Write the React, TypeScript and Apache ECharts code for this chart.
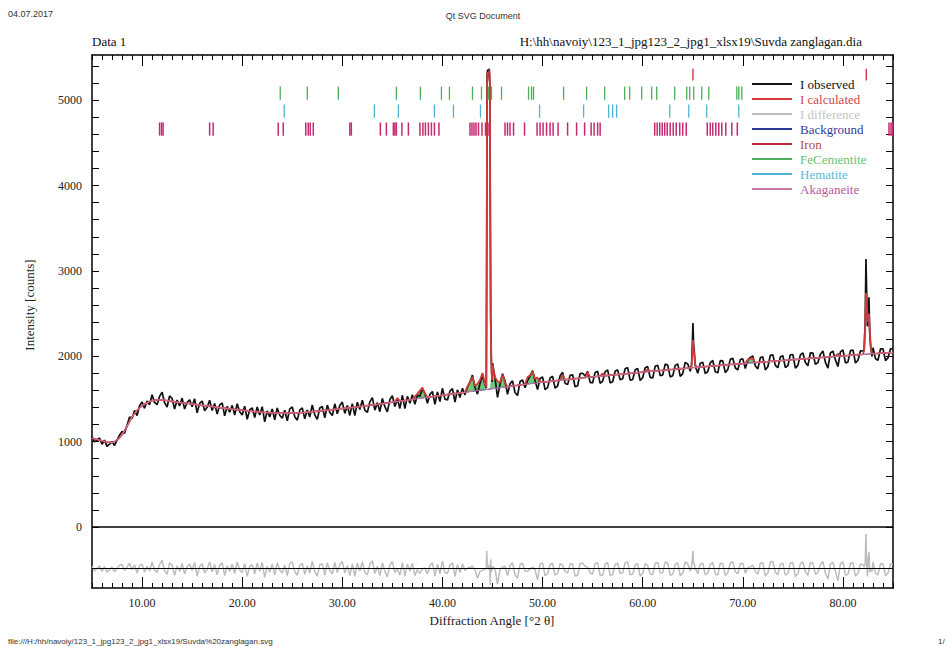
import React, { useEffect, useRef } from "react";
import * as echarts from "echarts";

// ---------------- data ----------------
const angles = [
  5, 5.25, 5.5, 5.75, 6, 6.25, 6.5, 6.75, 7, 7.25, 7.5, 7.75, 8, 8.25, 8.5, 8.75, 9, 9.25, 9.5, 9.75,
  10, 10.25, 10.5, 10.75, 11, 11.25, 11.5, 11.75, 12, 12.25, 12.5, 12.75, 13, 13.25, 13.5, 13.75, 14, 14.25, 14.5, 14.75,
  15, 15.25, 15.5, 15.75, 16, 16.25, 16.5, 16.75, 17, 17.25, 17.5, 17.75, 18, 18.25, 18.5, 18.75, 19, 19.25, 19.5, 19.75,
  20, 20.25, 20.5, 20.75, 21, 21.25, 21.5, 21.75, 22, 22.25, 22.5, 22.75, 23, 23.25, 23.5, 23.75, 24, 24.25, 24.5, 24.75,
  25, 25.25, 25.5, 25.75, 26, 26.25, 26.5, 26.75, 27, 27.25, 27.5, 27.75, 28, 28.25, 28.5, 28.75, 29, 29.25, 29.5, 29.75,
  30, 30.25, 30.5, 30.75, 31, 31.25, 31.5, 31.75, 32, 32.25, 32.5, 32.75, 33, 33.25, 33.5, 33.75, 34, 34.25, 34.5, 34.75,
  35, 35.25, 35.5, 35.75, 36, 36.25, 36.5, 36.75, 37, 37.25, 37.5, 37.75, 38, 38.25, 38.5, 38.75, 39, 39.25, 39.5, 39.75,
  40, 40.25, 40.5, 40.75, 41, 41.25, 41.5, 41.75, 42, 42.25, 42.5, 42.75, 43, 43.25, 43.5, 43.75, 44, 44.25, 44.5, 44.75,
  45, 45.25, 45.5, 45.75, 46, 46.25, 46.5, 46.75, 47, 47.25, 47.5, 47.75, 48, 48.25, 48.5, 48.75, 49, 49.25, 49.5, 49.75,
  50, 50.25, 50.5, 50.75, 51, 51.25, 51.5, 51.75, 52, 52.25, 52.5, 52.75, 53, 53.25, 53.5, 53.75, 54, 54.25, 54.5, 54.75,
  55, 55.25, 55.5, 55.75, 56, 56.25, 56.5, 56.75, 57, 57.25, 57.5, 57.75, 58, 58.25, 58.5, 58.75, 59, 59.25, 59.5, 59.75,
  60, 60.25, 60.5, 60.75, 61, 61.25, 61.5, 61.75, 62, 62.25, 62.5, 62.75, 63, 63.25, 63.5, 63.75, 64, 64.25, 64.5, 64.75,
  65, 65.25, 65.5, 65.75, 66, 66.25, 66.5, 66.75, 67, 67.25, 67.5, 67.75, 68, 68.25, 68.5, 68.75, 69, 69.25, 69.5, 69.75,
  70, 70.25, 70.5, 70.75, 71, 71.25, 71.5, 71.75, 72, 72.25, 72.5, 72.75, 73, 73.25, 73.5, 73.75, 74, 74.25, 74.5, 74.75,
  75, 75.25, 75.5, 75.75, 76, 76.25, 76.5, 76.75, 77, 77.25, 77.5, 77.75, 78, 78.25, 78.5, 78.75, 79, 79.25, 79.5, 79.75,
  80, 80.25, 80.5, 80.75, 81, 81.25, 81.5, 81.75, 82, 82.25, 82.5, 82.75, 83, 83.25, 83.5, 83.75, 84, 84.25, 84.5, 84.75,
  85,
];

const background = [
  1040, 1032, 1025, 1018, 1010, 1002, 995, 992, 990, 1000, 1020, 1045, 1080, 1128, 1180, 1235, 1290, 1330, 1365, 1395,
  1420, 1440, 1455, 1468, 1480, 1485, 1488, 1490, 1490, 1485, 1480, 1475, 1470, 1466, 1462, 1458, 1455, 1452, 1448, 1444,
  1440, 1436, 1432, 1428, 1425, 1422, 1418, 1414, 1410, 1406, 1402, 1398, 1395, 1392, 1388, 1384, 1380, 1377, 1374, 1371,
  1368, 1365, 1362, 1358, 1355, 1352, 1350, 1348, 1345, 1343, 1341, 1340, 1338, 1336, 1335, 1334, 1333, 1333, 1334, 1334,
  1335, 1336, 1337, 1338, 1340, 1342, 1345, 1348, 1350, 1353, 1356, 1359, 1362, 1365, 1368, 1372, 1375, 1378, 1381, 1384,
  1388, 1391, 1394, 1397, 1400, 1404, 1407, 1411, 1415, 1418, 1422, 1426, 1430, 1434, 1437, 1441, 1445, 1449, 1453, 1458,
  1462, 1466, 1470, 1474, 1478, 1482, 1486, 1490, 1495, 1499, 1503, 1508, 1512, 1516, 1520, 1524, 1528, 1532, 1536, 1540,
  1545, 1548, 1552, 1556, 1560, 1564, 1567, 1571, 1575, 1578, 1582, 1586, 1590, 1594, 1597, 1601, 1605, 1608, 1612, 1616,
  1620, 1624, 1628, 1632, 1636, 1640, 1644, 1648, 1652, 1656, 1660, 1664, 1667, 1671, 1675, 1678, 1682, 1686, 1690, 1694,
  1697, 1700, 1703, 1706, 1710, 1713, 1716, 1719, 1722, 1725, 1728, 1731, 1734, 1737, 1740, 1743, 1746, 1749, 1752, 1755,
  1758, 1761, 1764, 1767, 1770, 1772, 1775, 1778, 1781, 1784, 1786, 1789, 1792, 1794, 1797, 1800, 1803, 1806, 1808, 1811,
  1814, 1816, 1819, 1822, 1825, 1828, 1830, 1833, 1836, 1838, 1841, 1844, 1846, 1848, 1851, 1854, 1856, 1858, 1861, 1864,
  1866, 1868, 1871, 1874, 1876, 1878, 1881, 1884, 1886, 1888, 1891, 1894, 1896, 1898, 1901, 1904, 1906, 1908, 1910, 1912,
  1915, 1917, 1919, 1922, 1924, 1926, 1928, 1930, 1933, 1935, 1937, 1940, 1942, 1944, 1946, 1948, 1951, 1953, 1955, 1958,
  1960, 1962, 1964, 1966, 1969, 1971, 1973, 1976, 1978, 1980, 1982, 1984, 1987, 1989, 1991, 1994, 1996, 1998, 2000, 2002,
  2005, 2007, 2009, 2012, 2014, 2016, 2018, 2020, 2022, 2024, 2026, 2028, 2030, 2032, 2034, 2036, 2038, 2040, 2041, 2043,
  2045,
];

const observed = [
  1060, 997, 1015, 1043, 970, 1017, 945, 972, 1000, 955, 1015, 1075, 1120, 1098, 1190, 1290, 1270, 1365, 1305, 1420,
  1465, 1390, 1475, 1433, 1550, 1460, 1433, 1530, 1580, 1455, 1405, 1535, 1505, 1381, 1487, 1418, 1510, 1382, 1458, 1489,
  1410, 1501, 1337, 1448, 1475, 1362, 1403, 1484, 1365, 1446, 1322, 1428, 1455, 1302, 1413, 1344, 1425, 1312, 1444, 1351,
  1313, 1415, 1262, 1373, 1395, 1282, 1405, 1313, 1410, 1233, 1361, 1290, 1383, 1256, 1395, 1309, 1273, 1368, 1244, 1384,
  1405, 1291, 1252, 1368, 1395, 1267, 1370, 1288, 1430, 1313, 1261, 1394, 1412, 1280, 1428, 1342, 1305, 1443, 1326, 1424,
  1463, 1331, 1424, 1307, 1445, 1304, 1462, 1376, 1485, 1368, 1342, 1466, 1515, 1369, 1457, 1351, 1505, 1409, 1348, 1493,
  1537, 1411, 1500, 1389, 1543, 1387, 1531, 1450, 1550, 1439, 1543, 1533, 1622, 1566, 1450, 1554, 1588, 1437, 1581, 1470,
  1625, 1498, 1487, 1591, 1620, 1464, 1607, 1516, 1625, 1548, 1642, 1700, 1780, 1634, 1557, 1681, 1775, 1668, 1632, 1616,
  1920, 1744, 1518, 1672, 1796, 1710, 1554, 1678, 1712, 1576, 1540, 1704, 1722, 1631, 1715, 1768, 1832, 1716, 1610, 1739,
  1757, 1610, 1633, 1746, 1765, 1628, 1651, 1769, 1812, 1685, 1668, 1776, 1784, 1642, 1655, 1798, 1801, 1769, 1822, 1695,
  1688, 1811, 1824, 1682, 1710, 1817, 1840, 1688, 1701, 1824, 1841, 1724, 1737, 1854, 1867, 1720, 1728, 1841, 1858, 1716,
  1749, 1866, 1879, 1752, 1745, 1883, 1895, 1773, 1781, 1908, 1896, 1759, 1771, 1893, 1911, 1764, 1796, 1928, 1911, 1824,
  1866, 1868, 1801, 1919, 1931, 1798, 1821, 1924, 1951, 1818, 1806, 1949, 1946, 1808, 1846, 1964, 1976, 1863, 1840, 1962,
  1970, 1857, 1959, 1987, 2004, 1886, 1853, 1985, 1993, 1840, 1877, 2010, 2017, 1894, 1866, 1993, 2006, 1868, 1890, 2018,
  2020, 1862, 1894, 2016, 2039, 1926, 1888, 2041, 2038, 1905, 1927, 2024, 2062, 1929, 1861, 2039, 2061, 1958, 1880, 2052,
  2075, 1922, 1934, 2067, 2074, 1921, 1953, 2065, 2062, 2024, 2026, 2028, 2100, 1972, 1954, 2086, 2088, 1950, 1981, 2088,
  2085,
];

// FeCementite / minor-phase contributions above the background
const cementiteAngles = [
  35.5, 37.25, 37.5, 37.75, 38, 38.25, 42.5, 42.75, 43, 43.25, 43.5, 43.75, 44, 44.25,
  45, 45.25, 45.5, 45.75, 46, 46.25, 48.5, 48.75, 49, 49.25, 49.5, 52, 54.5, 56, 60.5, 70.5, 70.75, 71, 79.5,
];
const cementiteHeights = [
  40, 30, 60, 90, 120, 50, 60, 110, 170, 60, 80, 120, 200, 70,
  280, 130, 80, 60, 150, 50, 80, 100, 140, 50, 60, 60, 60, 30, 30, 40, 50, 50, 30,
];

// Iron peaks (fine sampling)
const iron110Angles = [44.38, 44.42, 44.46, 44.52, 44.6, 44.68, 44.74, 44.78, 44.82, 44.88, 44.95];
const iron110Observed = [1630, 3200, 5300, 5360, 5280, 5370, 5150, 3600, 2500, 1950, 1700];
const iron110Calculated = [1640, 3000, 5200, 5330, 5300, 5340, 5200, 3800, 2400, 2000, 1720];

const iron200Angles = [64.88, 64.96, 65.02, 65.08, 65.16, 65.24, 65.32];
const iron200Observed = [1900, 2150, 2390, 2150, 2050, 1900, 1860];
const iron200Calculated = [1880, 2050, 2190, 2100, 2000, 1920, 1875];

const iron211Angles = [82.12, 82.22, 82.3, 82.36, 82.44, 82.52, 82.6, 82.68, 82.78, 82.9];
const iron211Observed = [2080, 2400, 3140, 2800, 2350, 2500, 2690, 2250, 2100, 2000];
const iron211Calculated = [2070, 2350, 2740, 2700, 2450, 2400, 2500, 2300, 2120, 2040];

// Reflection markers
const ironReflections = [44.67, 65.02, 82.33];
const cementiteReflections = [
  23.8, 26.5, 29.6, 35.4, 37.8, 39.9, 40.7, 43.0, 43.9, 44.6, 44.9, 45.9, 48.6, 48.9, 49.1,
  52.1, 54.4, 56.2, 58.2, 58.7, 59.9, 60.9, 61.4, 63.2, 64.4, 64.7, 65.1, 65.9, 66.6, 69.4, 69.6, 69.9,
];
const hematiteReflections = [24.2, 33.2, 35.6, 39.2, 41.1, 43.8, 49.7, 54.1, 56.6, 57.0, 57.4, 62.7, 64.6, 66.4, 69.6];
const akaganeiteReflections = [
  11.75, 11.95, 12.1, 16.75, 17.1, 23.6, 24.1, 26.35, 26.6, 26.8, 27.1, 30.75, 30.9,
  33.8, 34.4, 35.1, 35.25, 35.4, 35.95, 36.6, 37.75, 38.05, 38.3, 38.6, 38.9, 39.2, 39.65,
  42.75, 42.95, 43.15, 43.35, 43.6, 43.95, 44.3, 44.55, 46.25, 46.5, 46.75, 47.1, 48.2,
  49.45, 49.75, 50.05, 50.4, 50.75, 51.05, 51.55, 52.5, 53.4, 54.2, 54.85, 55.15, 55.5, 55.75,
  61.2, 61.45, 61.7, 61.95, 62.2, 62.45, 62.75, 63.05, 63.35, 63.7, 64.0, 64.35,
  66.45, 66.75, 67.0, 67.3, 67.6, 67.9, 68.3, 68.9, 69.45, 84.6, 84.8, 84.95,
];

const xLabelValues = [10, 20, 30, 40, 50, 60, 70, 80];
const yLabelValues = [0, 1000, 2000, 3000, 4000, 5000];
const yTickValues = [
  0, 200, 400, 600, 800, 1000, 1200, 1400, 1600, 1800, 2000, 2200, 2400, 2600,
  2800, 3000, 3200, 3400, 3600, 3800, 4000, 4200, 4400, 4600, 4800, 5000, 5200, 5400,
];

const legendNames = ["I observed", "I calculated", "I difference", "Background", "Iron", "FeCementite", "Hematite", "Akaganeite"];

// ---------------- styling constants ----------------
const SERIF = "'Liberation Serif', 'DejaVu Serif', 'Times New Roman', serif";
const SANS = "'Liberation Sans', Arial, sans-serif";
const DIFF_OFFSET = -480;
const COLORS = {
  observed: "#111111",
  calculated: "#d23a3a",
  difference: "#bdbdbd",
  background: "#2b3592",
  iron: "#c8283c",
  cementite: "#4caf5a",
  hematite: "#4fb4d4",
  akaganeite: "#c42a72",
  akaLine: "#c77aa6",
};
const LEGEND_TEXT = ["#111111", "#d04848", "#c4c4c4", "#333a9a", "#b84848", "#6cc070", "#5cb8d8", "#b45c9c"];
const ROWS = {
  iron: [5370, 5230],
  cementite: [5160, 5005],
  hematite: [4950, 4795],
  akaganeite: [4740, 4585],
};

function buildMerged() {
  const calculated = background.map((b, i) => {
    const k = cementiteAngles.indexOf(angles[i]);
    return k >= 0 ? b + cementiteHeights[k] : b;
  });
  const groups = [
    { a: iron110Angles, o: iron110Observed, c: iron110Calculated },
    { a: iron200Angles, o: iron200Observed, c: iron200Calculated },
    { a: iron211Angles, o: iron211Observed, c: iron211Calculated },
  ];
  const merged: number[][] = [];
  angles.forEach((a, i) => {
    const inside = groups.some((g) => a > g.a[0] && a < g.a[g.a.length - 1]);
    if (!inside) merged.push([a, observed[i], calculated[i]]);
  });
  groups.forEach((g) => g.a.forEach((a, j) => merged.push([a, g.o[j], g.c[j]])));
  merged.sort((p, q) => p[0] - q[0]);
  return { calculated, merged };
}

function markerSeries(name: string, refs: number[], row: number[], color: string, width: number) {
  return {
    type: "custom",
    name,
    silent: true,
    itemStyle: { color },
    z: 4,
    data: refs.map((a) => [a, row[0]]),
    renderItem: (params: any, api: any) => {
      const a = api.value(0);
      const p1 = api.coord([a, row[0]]);
      const p2 = api.coord([a, row[1]]);
      return {
        type: "line",
        shape: { x1: p1[0], y1: p1[1], x2: p2[0], y2: p2[1] },
        style: { stroke: color, lineWidth: width },
      };
    },
  };
}

export default function App() {
  const ref = useRef<HTMLDivElement>(null);
  useEffect(() => {
    if (!ref.current) return;
    const chart = echarts.init(ref.current, null, { renderer: "svg" });
    const { calculated, merged } = buildMerged();

    const axisLineStyle = { color: "#000", width: 1.5 };
    const tickStyle = { color: "#000", width: 1 };
    const xMinor = angles.filter((a) => a % 1 === 0);
    const xBase = { type: "value", min: 5, max: 85, splitLine: { show: false } };
    const yBase = { type: "value", min: -715, max: 5530, splitLine: { show: false } };

    const option: any = {
      animation: false,
      backgroundColor: "#fff",
      grid: { left: 92, right: 53, top: 55, bottom: 58, containLabel: false, outerBoundsMode: "none" },
      xAxis: [
        {
          ...xBase,
          position: "bottom",
          axisLine: { show: true, onZero: false, lineStyle: axisLineStyle },
          axisTick: { show: true, inside: true, length: 5, customValues: xMinor, lineStyle: tickStyle },
          axisLabel: {
            show: true,
            customValues: xLabelValues,
            formatter: (v: number) => v.toFixed(2),
            margin: 9,
            fontFamily: SERIF,
            fontSize: 12,
            color: "#222",
          },
        },
        {
          ...xBase,
          position: "bottom",
          axisLine: { show: false, onZero: false },
          axisTick: { show: true, inside: true, length: 11, customValues: xLabelValues, lineStyle: tickStyle },
          axisLabel: { show: false },
        },
        {
          ...xBase,
          position: "top",
          axisLine: { show: true, onZero: false, lineStyle: axisLineStyle },
          axisTick: { show: true, inside: true, length: 5, customValues: xMinor, lineStyle: tickStyle },
          axisLabel: { show: false },
        },
        {
          ...xBase,
          position: "top",
          axisLine: { show: false, onZero: false },
          axisTick: { show: true, inside: true, length: 11, customValues: xLabelValues, lineStyle: tickStyle },
          axisLabel: { show: false },
        },
      ],
      yAxis: [
        {
          ...yBase,
          position: "left",
          axisLine: { show: true, onZero: false, lineStyle: axisLineStyle },
          axisTick: { show: true, inside: true, length: 7, customValues: yTickValues, lineStyle: tickStyle },
          axisLabel: {
            show: true,
            customValues: yLabelValues,
            formatter: (v: number) => String(v),
            margin: 10,
            fontFamily: SERIF,
            fontSize: 12,
            color: "#222",
          },
        },
        {
          ...yBase,
          position: "right",
          axisLine: { show: true, onZero: false, lineStyle: axisLineStyle },
          axisTick: { show: true, inside: true, length: 7, customValues: yTickValues, lineStyle: tickStyle },
          axisLabel: { show: false },
        },
      ],
      legend: {
        orient: "vertical",
        left: 746,
        top: 73,
        itemWidth: 40,
        itemHeight: 2,
        itemGap: 1,
        icon: "rect",
        selectedMode: false,
        backgroundColor: "#fff",
        padding: [4, 8, 4, 6],
        textStyle: { fontFamily: SERIF, fontSize: 13, lineHeight: 14, padding: [0, 0, 0, 3] },
        data: legendNames.map((n, i) => ({ name: n, textStyle: { color: LEGEND_TEXT[i] } })),
      },
      graphic: [
        { type: "text", left: 8, top: 9, style: { text: "04.07.2017", font: `9px ${SANS}`, fill: "#333" } },
        { type: "text", x: 483, y: 16, style: { text: "Qt SVG Document", font: `9px ${SANS}`, fill: "#333", align: "center", verticalAlign: "middle" } },
        { type: "text", x: 92, y: 41, style: { text: "Data 1", font: `13px ${SERIF}`, fill: "#111", align: "left", verticalAlign: "middle" } },
        {
          type: "text",
          x: 862,
          y: 41,
          style: { text: "H:\\hh\\navoiy\\123_1_jpg123_2_jpg1_xlsx19\\Suvda zanglagan.dia", font: `13px ${SERIF}`, fill: "#111", align: "right", verticalAlign: "middle" },
        },
        { type: "text", x: 29, y: 305, rotation: Math.PI / 2, style: { text: "Intensity [counts]", font: `13px ${SERIF}`, fill: "#222", align: "center", verticalAlign: "middle" } },
        { type: "text", x: 492, y: 620, style: { text: "Diffraction Angle [°2 θ]", font: `13px ${SERIF}`, fill: "#222", align: "center", verticalAlign: "middle" } },
        { type: "text", x: 8, y: 641, style: { text: "file:///H:/hh/navoiy/123_1_jpg123_2_jpg1_xlsx19/Suvda%20zanglagan.svg", font: `8px ${SANS}`, fill: "#333", align: "left", verticalAlign: "middle" } },
        { type: "text", x: 938, y: 641, style: { text: "1/", font: `8px ${SANS}`, fill: "#333", align: "left", verticalAlign: "middle" } },
      ],
      series: [
        {
          type: "custom",
          name: "FeCementite fill",
          silent: true,
          z: 1,
          data: [[5, 0]],
          renderItem: (params: any, api: any) => {
            const top = angles.map((a, i) => api.coord([a, calculated[i]]));
            const bottom = angles.map((a, i) => api.coord([a, background[i]])).reverse();
            return { type: "polygon", shape: { points: top.concat(bottom) }, style: { fill: "#6cc878" } };
          },
        },
        {
          type: "line",
          name: "I observed",
          data: merged.map((p) => [p[0], p[1]]),
          showSymbol: false,
          symbol: "none",
          silent: true,
          z: 2,
          itemStyle: { color: COLORS.observed },
          lineStyle: { color: COLORS.observed, width: 1.7 },
        },
        {
          type: "line",
          name: "Background",
          data: angles.map((a, i) => [a, background[i]]),
          symbol: "none",
          silent: true,
          z: 2,
          itemStyle: { color: COLORS.background },
          lineStyle: { color: COLORS.background, width: 1 },
        },
        {
          type: "line",
          name: "I calculated",
          data: merged.map((p) => [p[0], p[2]]),
          symbol: "none",
          silent: true,
          z: 3,
          itemStyle: { color: COLORS.calculated },
          lineStyle: { color: COLORS.calculated, width: 1.8 },
        },
        {
          type: "line",
          name: "Akaganeite",
          data: angles.map((a, i) => [a, background[i]]),
          symbol: "none",
          silent: true,
          z: 3,
          itemStyle: { color: COLORS.akaLine },
          lineStyle: { color: COLORS.akaLine, width: 1 },
        },
        {
          type: "line",
          name: "I difference",
          data: merged.map((p) => [p[0], p[1] - p[2] + DIFF_OFFSET]),
          symbol: "none",
          silent: true,
          z: 2,
          itemStyle: { color: COLORS.difference },
          lineStyle: { color: COLORS.difference, width: 1.5 },
          markLine: {
            silent: true,
            symbol: "none",
            label: { show: false },
            data: [
              { yAxis: 0, lineStyle: { color: "#000", width: 1.5, type: "solid" } },
              { yAxis: DIFF_OFFSET, lineStyle: { color: "#000", width: 1, type: "solid" } },
            ],
          },
        },
        markerSeries("Iron", ironReflections, ROWS.iron, COLORS.iron, 1.3),
        markerSeries("FeCementite", cementiteReflections, ROWS.cementite, COLORS.cementite, 1.3),
        markerSeries("Hematite", hematiteReflections, ROWS.hematite, COLORS.hematite, 1.3),
        markerSeries("Akaganeite", akaganeiteReflections, ROWS.akaganeite, COLORS.akaganeite, 1.5),
      ],
    };
    chart.setOption(option);
    return () => chart.dispose();
  }, []);

  return (
    <div
      ref={ref}
      style={{ position: "fixed", left: 0, top: 0, width: 946, height: 646, background: "#fff" }}
    />
  );
}
